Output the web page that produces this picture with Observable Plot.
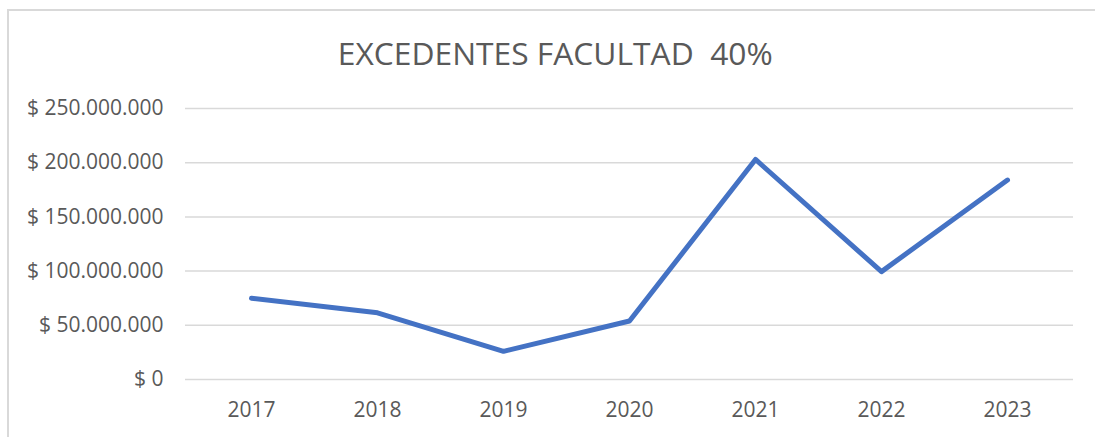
<!DOCTYPE html>
<html><head><meta charset="utf-8">
<script src="https://cdn.jsdelivr.net/npm/d3@7"></script>
<script src="https://cdn.jsdelivr.net/npm/@observablehq/plot@0.6"></script>
<style>
body{margin:0;background:#fff;overflow:hidden;}
#wrap{position:relative;width:1095px;height:437px;overflow:hidden;font-family:"Open Sans",sans-serif;background:#fff;}
#frame{position:absolute;left:7px;top:9px;width:2000px;height:2000px;border:2px solid #d9d9d9;box-sizing:border-box;}
#title{position:absolute;left:0;top:38px;width:1110px;text-align:center;font-size:31px;line-height:31px;color:#595959;white-space:pre;}
#title span{display:inline-block;transform-origin:center;}
#chart{position:absolute;left:0;top:90px;}
</style></head><body>
<div id="wrap"><div id="frame"></div><div id="title"><span id="tt">EXCEDENTES FACULTAD  40%</span></div><div id="chart"></div></div>
<script>
const years = ["2017", "2018", "2019", "2020", "2021", "2022", "2023"];
const values = [75000000, 61500000, 26000000, 54000000, 203000000, 99500000, 184000000];
const yTicks = [0, 50000000, 100000000, 150000000, 200000000, 250000000];

const data = years.map((y, i) => ({year: y, value: values[i]}));
const loc = d3.formatLocale({decimal: ",", thousands: ".", grouping: [3], currency: ["$ ", ""]});
const fmt = loc.format("$,.0f");

const chart = Plot.plot({
  width: 1095,
  height: 347,
  marginTop: 18,
  marginBottom: 58,
  marginLeft: 185,
  marginRight: 22,
  style: {fontFamily: "Open Sans, sans-serif", fontSize: "21px", color: "#595959", background: "transparent"},
  x: {type: "point", domain: years, padding: 0.5, label: null},
  y: {domain: [0, 250000000], label: null},
  marks: [
    Plot.gridY(yTicks, {stroke: "#d9d9d9", strokeOpacity: 1, strokeWidth: 1.5}),
    Plot.axisY(yTicks, {tickSize: 0, tickPadding: 22, tickFormat: fmt, label: null, fontSize: 21}),
    Plot.axisX({tickSize: 0, tickPadding: 23, label: null, fontSize: 21}),
    Plot.line(data, {x: "year", y: "value", stroke: "#4472C4", strokeWidth: 5, strokeLinecap: "round", strokeLinejoin: "round"})
  ]
});
document.getElementById("chart").appendChild(chart);

const tt = document.getElementById("tt");
const w = tt.getBoundingClientRect().width;
if (w > 0) tt.style.transform = `scaleX(${435 / w})`;
</script>
</body></html>
